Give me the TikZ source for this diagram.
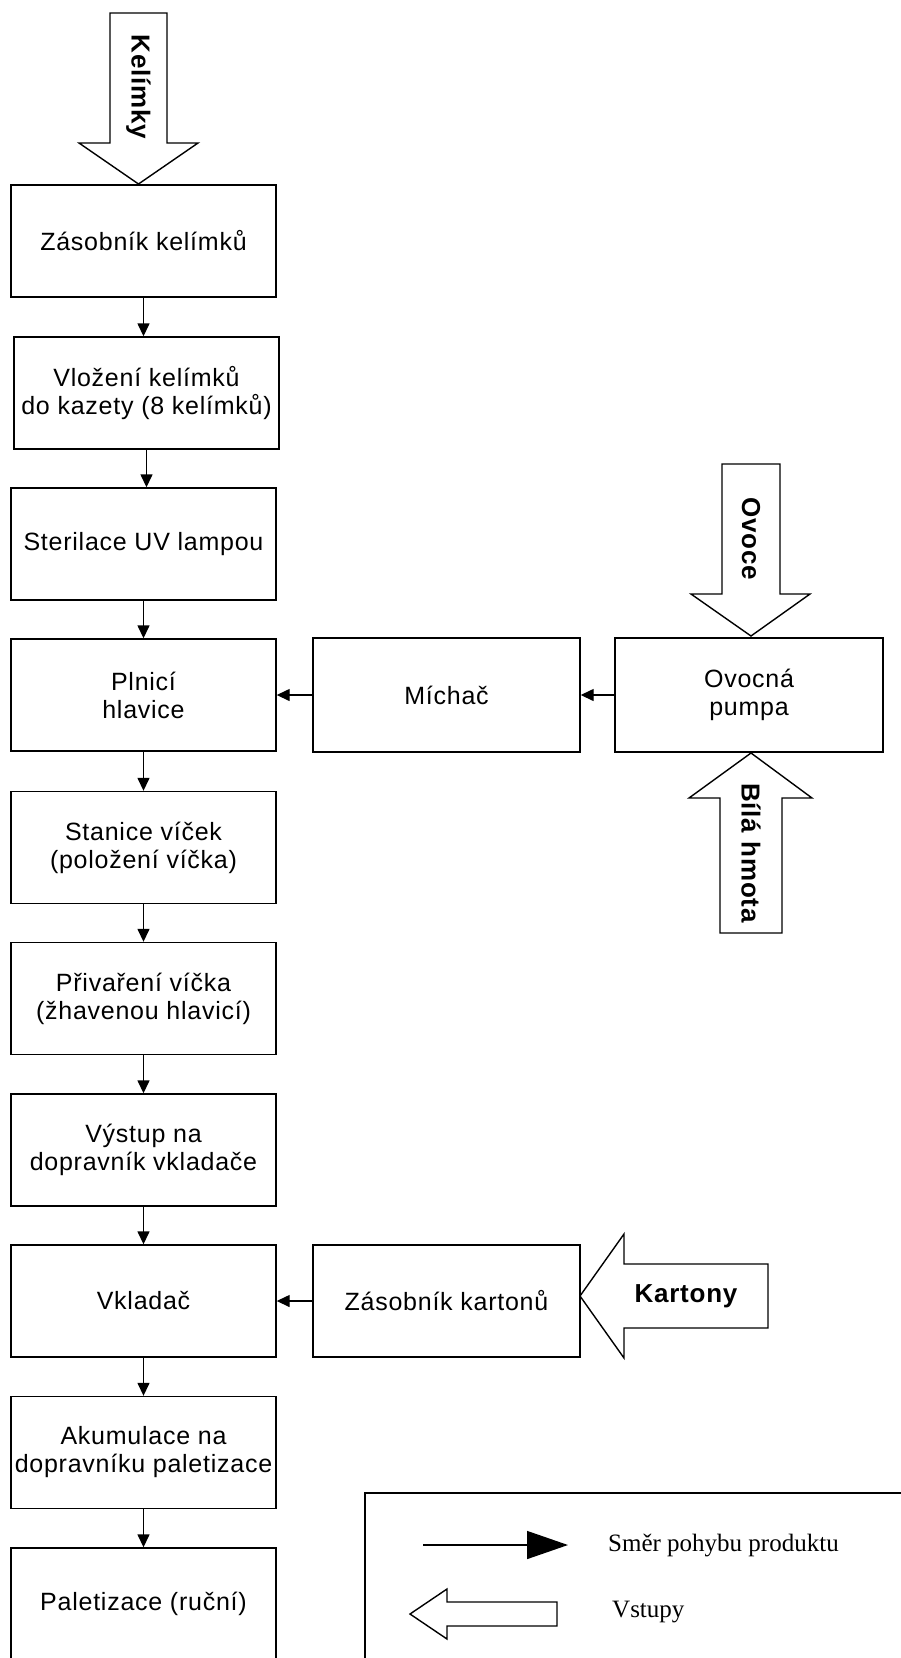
\documentclass[tikz,border=0pt]{standalone}
\usepackage{fontspec}
\setmainfont{Liberation Sans}[LetterSpace=3]
\newfontfamily\legendfont{Liberation Serif}
\usetikzlibrary{arrows.meta}
\begin{document}
\begin{tikzpicture}[x=1pt,y=-1pt,
  stepbox/.style={draw, line width=1.4pt, minimum width=265pt, minimum height=112pt,
    align=center, inner sep=0pt, font=\fontsize{25}{28}\selectfont},
  flow/.style={line width=1.4pt, -{Triangle[length=13pt,width=12pt]}},
  inarrow/.style={draw, line width=1.4pt, fill=white, line join=miter},
  inlabel/.style={font=\bfseries\fontsize{26}{30}\selectfont, inner sep=0pt},
  legtext/.style={anchor=west, inner sep=0pt, font=\legendfont\fontsize{25}{28}\selectfont},
]
\useasboundingbox (0,0) rectangle (901,1658);

% main production line
\node[stepbox] (b1)  at (143.5,241)   {Zásobník kelímků};
\node[stepbox] (b2)  at (146.5,393)   {Vložení kelímků\\do kazety (8 kelímků)};
\node[stepbox] (b3)  at (143.5,544)   {Sterilace UV lampou};
\node[stepbox] (b4)  at (143.5,695)   {Plnicí\\hlavice};
\node[stepbox] (b5)  at (143.5,847.5) {Stanice víček\\(položení víčka)};
\node[stepbox] (b6)  at (143.5,998.5) {Přivaření víčka\\(žhavenou hlavicí)};
\node[stepbox] (b7)  at (143.5,1150)  {Výstup na\\dopravník vkladače};
\node[stepbox] (b8)  at (143.5,1301)  {Vkladač};
\node[stepbox] (b9)  at (143.5,1452.5){Akumulace na\\dopravníku paletizace};
\node[stepbox] (b10) at (143.5,1604)  {Paletizace (ruční)};

% side feeders
\node[stepbox, minimum width=267pt, minimum height=114pt] (mix)  at (446.5,695) {Míchač};
\node[stepbox, minimum width=268pt, minimum height=114pt] (pump) at (749,695)   {Ovocná\\pumpa};
\node[stepbox, minimum width=267pt] (cart) at (446.5,1301) {Zásobník kartonů};

% product flow
\foreach \a/\b in {b1/b2,b2/b3,b3/b4,b4/b5,b5/b6,b6/b7,b7/b8,b8/b9,b9/b10}
  \draw[flow] (\a.south) -- (\a.south |- \b.north);
\draw[flow] (mix.west) -- (b4.east);
\draw[flow] (pump.west) -- (mix.east);
\draw[flow] (cart.west) -- (b8.east);

% material inputs
\draw[inarrow] (138.5,184) -- (198,143) -- (167,143) -- (167,13) -- (110,13) -- (110,143) -- (79,143) -- cycle;
\node[inlabel, rotate=-90] (lkel) at (138.5,87) {Kelímky};

\draw[inarrow] (751,636) -- (810,594) -- (780,594) -- (780,464) -- (722,464) -- (722,594) -- (691,594) -- cycle;
\node[inlabel, rotate=-90] (lovo) at (751,539) {Ovoce};

\draw[inarrow] (751,753) -- (812,798) -- (782,798) -- (782,933) -- (720,933) -- (720,798) -- (689,798) -- cycle;
\node[inlabel, rotate=-90] (lbil) at (751,853) {Bílá hmota};

\draw[inarrow] (580,1296) -- (624,1234) -- (624,1264) -- (768,1264) -- (768,1328) -- (624,1328) -- (624,1358) -- cycle;
\node[inlabel] (lkar) at (686,1296) {Kartony};

% legend
\draw[line width=1.4pt] (365,1700) -- (365,1493) -- (930,1493);
\coordinate (la) at (423,1545);
\coordinate (lb) at (568,1545);
\draw[line width=1.5pt, -{Triangle[length=41pt,width=28pt]}] (la) -- (lb);
\node[legtext] (t1) at (608,1545) {Směr pohybu produktu};
\draw[inarrow] (410,1614) -- (447,1589) -- (447,1602) -- (557,1602) -- (557,1626) -- (447,1626) -- (447,1639) -- cycle;
\node[legtext] (t2) at (612,1612) {Vstupy};
\end{tikzpicture}
\end{document}
